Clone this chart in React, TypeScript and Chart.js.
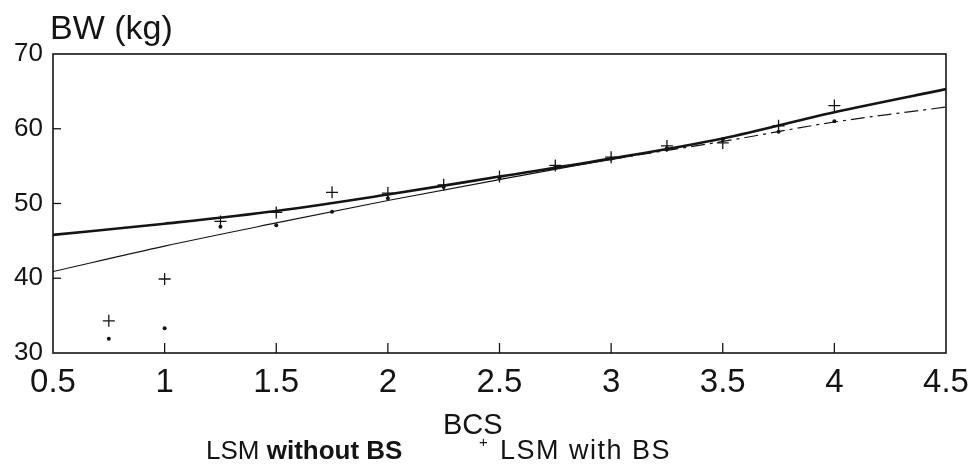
import React, { useEffect, useRef } from "react";
import { Chart, registerables } from "chart.js";

Chart.register(...registerables);

// BCS categories where LSM were measured
const bcsPoints = [0.75, 1, 1.25, 1.5, 1.75, 2, 2.25, 2.5, 2.75, 3, 3.25, 3.5, 3.75, 4];
// LSM with BS (+ markers)
const lsmWithBS = [34.3, 39.9, 47.6, 48.8, 51.5, 51.4, 52.5, 53.6, 55.1, 56.2, 57.7, 58.1, 60.4, 63.1];
// LSM without BS (dot markers)
const lsmWithoutBS = [31.9, 33.3, 46.9, 47.1, 48.9, 50.7, 52.2, 53.4, 54.8, 56.0, 57.4, 58.6, 59.6, 61.0];

// fitted curves read at BCS steps
const fitX = [0.5, 1, 1.5, 2, 2.5, 3, 3.5, 4, 4.5];
const fitWithBS = [45.8, 47.3, 49.0, 51.2, 53.6, 56.0, 58.7, 62.2, 65.3];
const fitWithoutBS = [40.9, 44.3, 47.4, 50.4, 53.2, 55.9, 58.3, 60.9, 62.9];

// axis ticks
const xTickValues = [0.5, 1, 1.5, 2, 2.5, 3, 3.5, 4, 4.5];
const xTickLabels = ["0.5", "1", "1.5", "2", "2.5", "3", "3.5", "4", "4.5"];
const yTickValues = [30, 40, 50, 60, 70];

const INK = "#141414";

const frameAndTicks = {
  id: "frameAndTicks",
  afterDatasetsDraw(chart: any) {
    const { ctx, chartArea } = chart;
    const { left, right, top, bottom } = chartArea;
    ctx.save();
    ctx.strokeStyle = INK;
    ctx.lineWidth = 1.6;
    ctx.strokeRect(left, top, right - left, bottom - top);
    ctx.lineWidth = 1.3;
    const xs = chart.scales.x;
    xTickValues.slice(1, -1).forEach((v) => {
      const px = xs.getPixelForValue(v);
      ctx.beginPath();
      ctx.moveTo(px, bottom);
      ctx.lineTo(px, bottom - 10);
      ctx.stroke();
    });
    const ys = chart.scales.y;
    yTickValues.slice(1, -1).forEach((v) => {
      const py = ys.getPixelForValue(v);
      ctx.beginPath();
      ctx.moveTo(left, py);
      ctx.lineTo(left + 8, py);
      ctx.stroke();
    });
    ctx.restore();
  },
};

export default function App() {
  const ref = useRef<HTMLCanvasElement | null>(null);

  useEffect(() => {
    if (!ref.current) return;
    const chart = new Chart(ref.current, {
      type: "scatter",
      data: {
        datasets: [
          {
            label: "fit with BS",
            data: fitX.map((x, i) => ({ x, y: fitWithBS[i] })),
            showLine: true,
            borderColor: INK,
            borderWidth: 2.6,
            pointRadius: 0,
            cubicInterpolationMode: "monotone",
          } as any,
          {
            label: "fit without BS",
            data: fitX.map((x, i) => ({ x, y: fitWithoutBS[i] })),
            showLine: true,
            borderColor: INK,
            borderWidth: 1.2,
            pointRadius: 0,
            cubicInterpolationMode: "monotone",
            segment: {
              borderDash: (c: any) => (c.p0.parsed.x >= 3 ? [14, 5, 3, 5] : undefined),
            },
          } as any,
          {
            label: "LSM with BS",
            data: bcsPoints.map((x, i) => ({ x, y: lsmWithBS[i] })),
            pointStyle: "cross",
            pointRadius: 6,
            borderColor: INK,
            borderWidth: 1.3,
          } as any,
          {
            label: "LSM without BS",
            data: bcsPoints.map((x, i) => ({ x, y: lsmWithoutBS[i] })),
            pointStyle: "circle",
            pointRadius: 2,
            backgroundColor: INK,
            borderColor: INK,
            borderWidth: 0,
          } as any,
        ],
      },
      options: {
        animation: false,
        responsive: false,
        layout: { padding: { left: 0, top: 54, right: 25, bottom: 0 } },
        plugins: { legend: { display: false }, tooltip: { enabled: false } },
        scales: {
          x: {
            type: "linear",
            min: 0.5,
            max: 4.5,
            afterBuildTicks: (s: any) => {
              s.ticks = xTickValues.map((v) => ({ value: v }));
            },
            afterFit: (s: any) => {
              s.height = 113;
              s.paddingLeft = 0;
              s.paddingRight = 0;
            },
            grid: { display: false, drawTicks: false },
            border: { display: false },
            ticks: {
              color: INK,
              padding: 10,
              maxRotation: 0,
              autoSkip: false,
              font: { family: "'Liberation Sans Narrow', 'Liberation Sans', Arial, sans-serif", size: 33 },
              callback: (v: any) => {
                const i = xTickValues.indexOf(Number(v));
                return i >= 0 ? xTickLabels[i] : "";
              },
            },
          },
          y: {
            type: "linear",
            min: 30,
            max: 70,
            afterBuildTicks: (s: any) => {
              s.ticks = yTickValues.map((v) => ({ value: v }));
            },
            afterFit: (s: any) => {
              s.width = 53;
              s.paddingTop = 0;
              s.paddingBottom = 0;
            },
            grid: { display: false, drawTicks: false },
            border: { display: false },
            ticks: {
              color: INK,
              padding: 10,
              font: { family: "'Liberation Sans', Arial, sans-serif", size: 26 },
            },
          },
        },
      },
      plugins: [frameAndTicks],
    });
    return () => chart.destroy();
  }, []);

  const base: React.CSSProperties = {
    position: "absolute",
    fontFamily: "'Liberation Sans', Arial, sans-serif",
    color: INK,
    lineHeight: 1,
    whiteSpace: "nowrap",
  };

  return (
    <div style={{ position: "fixed", left: 0, top: 0, width: 971, height: 466, background: "#fff" }}>
      <canvas ref={ref} width={971} height={466} style={{ position: "absolute", left: 0, top: 0 }} />
      <div style={{ ...base, left: 50, top: 10, fontSize: 34 }}>BW (kg)</div>
      <div style={{ ...base, left: 443, top: 410, fontSize: 29 }}>BCS</div>
      <div style={{ ...base, left: 206, top: 437, fontSize: 26 }}>
        LSM <b>without BS</b>
      </div>
      <div style={{ ...base, left: 479, top: 434, fontSize: 15 }}>+</div>
      <div style={{ ...base, left: 500, top: 437, fontSize: 27, letterSpacing: 1.5 }}>LSM with BS</div>
    </div>
  );
}
